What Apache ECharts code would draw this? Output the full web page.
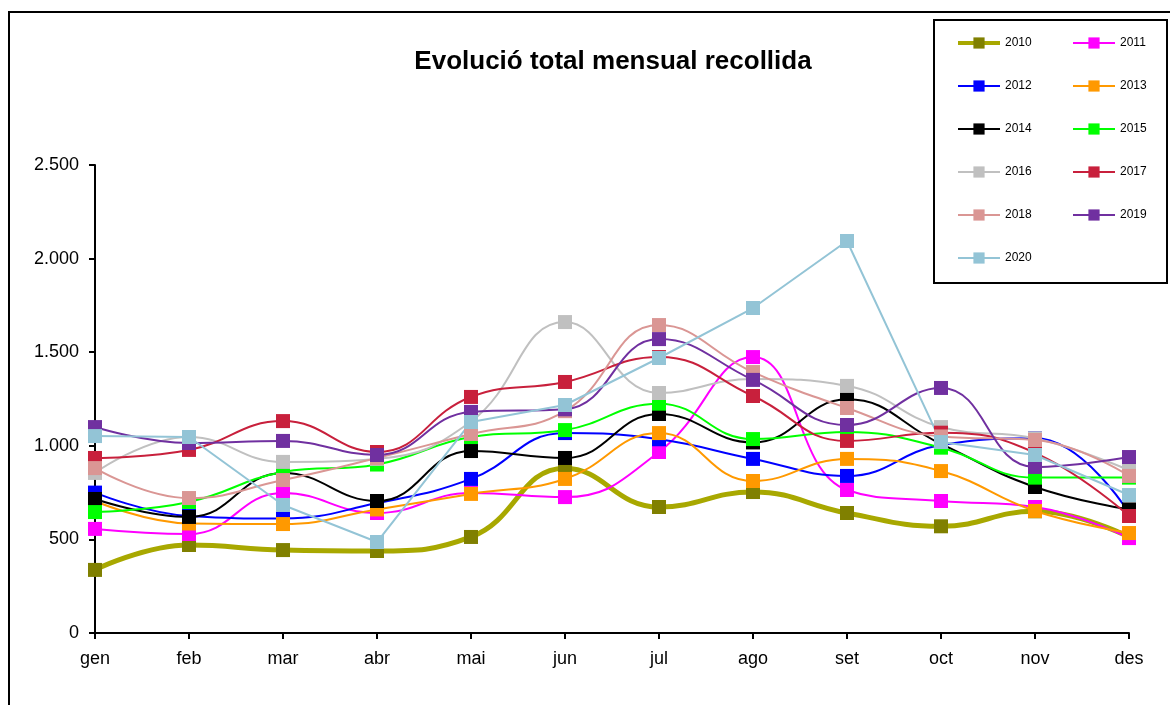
<!DOCTYPE html>
<html>
<head>
<meta charset="utf-8">
<script src="https://cdn.jsdelivr.net/npm/echarts@6/dist/echarts.min.js"></script>
<style>
  html, body { margin: 0; padding: 0; background: #fff; }
  #chart { width: 1170px; height: 705px; }
</style>
</head>
<body>
<div id="chart"></div>
<script>
// mesos
var months = ['gen', 'feb', 'mar', 'abr', 'mai', 'jun', 'jul', 'ago', 'set', 'oct', 'nov', 'des'];
var yTicks = [0, 500, 1000, 1500, 2000, 2500];

// valors per any (llegits del gràfic)
var y2010 = [337, 470, 443, 438, 513, 880, 673, 753, 641, 570, 650, 513];
var y2011 = [556, 529, 748, 641, 748, 726, 967, 1474, 764, 705, 673, 507];
var y2012 = [750, 625, 612, 694, 823, 1068, 1035, 930, 839, 1004, 1040, 640];
var y2013 = [705, 585, 582, 660, 743, 823, 1068, 812, 930, 865, 652, 534];
var y2014 = [716, 620, 855, 705, 972, 935, 1170, 1018, 1248, 1010, 780, 660];
var y2015 = [646, 700, 860, 900, 1047, 1084, 1225, 1036, 1074, 990, 830, 830];
var y2016 = [855, 1047, 914, 930, 1130, 1661, 1282, 1357, 1320, 1100, 1040, 870];
var y2017 = [935, 978, 1132, 967, 1261, 1341, 1474, 1266, 1026, 1070, 962, 625];
var y2018 = [881, 721, 817, 935, 1063, 1185, 1645, 1394, 1202, 1050, 1031, 839];
var y2019 = [1100, 1015, 1026, 951, 1181, 1195, 1570, 1352, 1111, 1309, 887, 940];
var y2020 = [1052, 1047, 684, 486, 1127, 1218, 1469, 1736, 2094, 1020, 951, 737];

var years = ['2010', '2011', '2012', '2013', '2014', '2015', '2016', '2017', '2018', '2019', '2020'];
var values = [y2010, y2011, y2012, y2013, y2014, y2015, y2016, y2017, y2018, y2019, y2020];
var lineColors = ['#a8a800', '#ff00ff', '#0000ff', '#ff9900', '#000000', '#00ff00',
                  '#c0c0c0', '#c8203c', '#da9694', '#7030a0', '#93c4d6'];
var markColors = ['#808000', '#ff00ff', '#0000ff', '#ff9900', '#000000', '#00ff00',
                  '#c0c0c0', '#c8203c', '#da9694', '#7030a0', '#93c4d6'];

var series = years.map(function(y, i) {
    return {
        name: y,
        type: 'line',
        data: values[i],
        smooth: y === '2020' ? false : 0.45,
        symbol: 'rect',
        symbolSize: 14,
        lineStyle: { color: lineColors[i], width: y === '2010' ? 5 : 2 },
        itemStyle: { color: markColors[i] },
        emphasis: { disabled: true }
    };
});

var legendBase = {
    orient: 'vertical',
    top: 31,
    itemWidth: 42,
    itemHeight: 14,
    itemGap: 29,
    textStyle: { fontFamily: 'Liberation Sans', fontSize: 12, color: '#000', lineHeight: 14 },
    selectedMode: false
};

function legendItems(list) {
    return list.map(function(y) {
        return y === '2010' ? { name: y, lineStyle: { width: 4 } } : { name: y };
    });
}

var mcharts = echarts.init(document.getElementById('chart'), null, { renderer: 'canvas' });

var option = {
    animation: false,
    backgroundColor: '#fff',
    title: {
        text: 'Evolució total mensual recollida',
        left: 608,
        textAlign: 'center',
        top: 44,
        textStyle: { fontFamily: 'Liberation Sans', fontSize: 26, fontWeight: 'bold', color: '#000' }
    },
    legend: [
        Object.assign({}, legendBase, { left: 951, data: legendItems(['2010', '2012', '2014', '2016', '2018', '2020']) }),
        Object.assign({}, legendBase, { left: 1067, data: legendItems(['2011', '2013', '2015', '2017', '2019']) })
    ],
    graphic: [
        {
            type: 'rect',
            shape: { x: 9, y: 12, width: 1200, height: 720 },
            style: { fill: null, stroke: '#000', lineWidth: 2 },
            silent: true
        },
        {
            type: 'rect',
            shape: { x: 934, y: 20, width: 233, height: 263 },
            style: { fill: '#fff', stroke: '#000', lineWidth: 2 },
            silent: true,
            z: -1
        }
    ],
    grid: { left: 95, right: 41, top: 165, bottom: 72, containLabel: false },
    xAxis: {
        type: 'category',
        data: months,
        boundaryGap: false,
        axisLine: { lineStyle: { color: '#000', width: 2 } },
        axisTick: { alignWithLabel: true, length: 6, lineStyle: { color: '#000', width: 2 } },
        axisLabel: { fontFamily: 'Liberation Sans', fontSize: 18, color: '#000', margin: 17 },
        splitLine: { show: false }
    },
    yAxis: {
        type: 'value',
        min: yTicks[0],
        max: yTicks[yTicks.length - 1],
        interval: 500,
        axisLine: { show: true, lineStyle: { color: '#000', width: 2 } },
        axisTick: { show: true, length: 6, lineStyle: { color: '#000', width: 2 } },
        axisLabel: {
            fontFamily: 'Liberation Sans', fontSize: 18, color: '#000', margin: 16,
            formatter: function(v) { return String(v).replace(/\B(?=(\d{3})+(?!\d))/g, '.'); }
        },
        splitLine: { show: false }
    },
    series: series
};

mcharts.setOption(option, true);
</script>
</body>
</html>
